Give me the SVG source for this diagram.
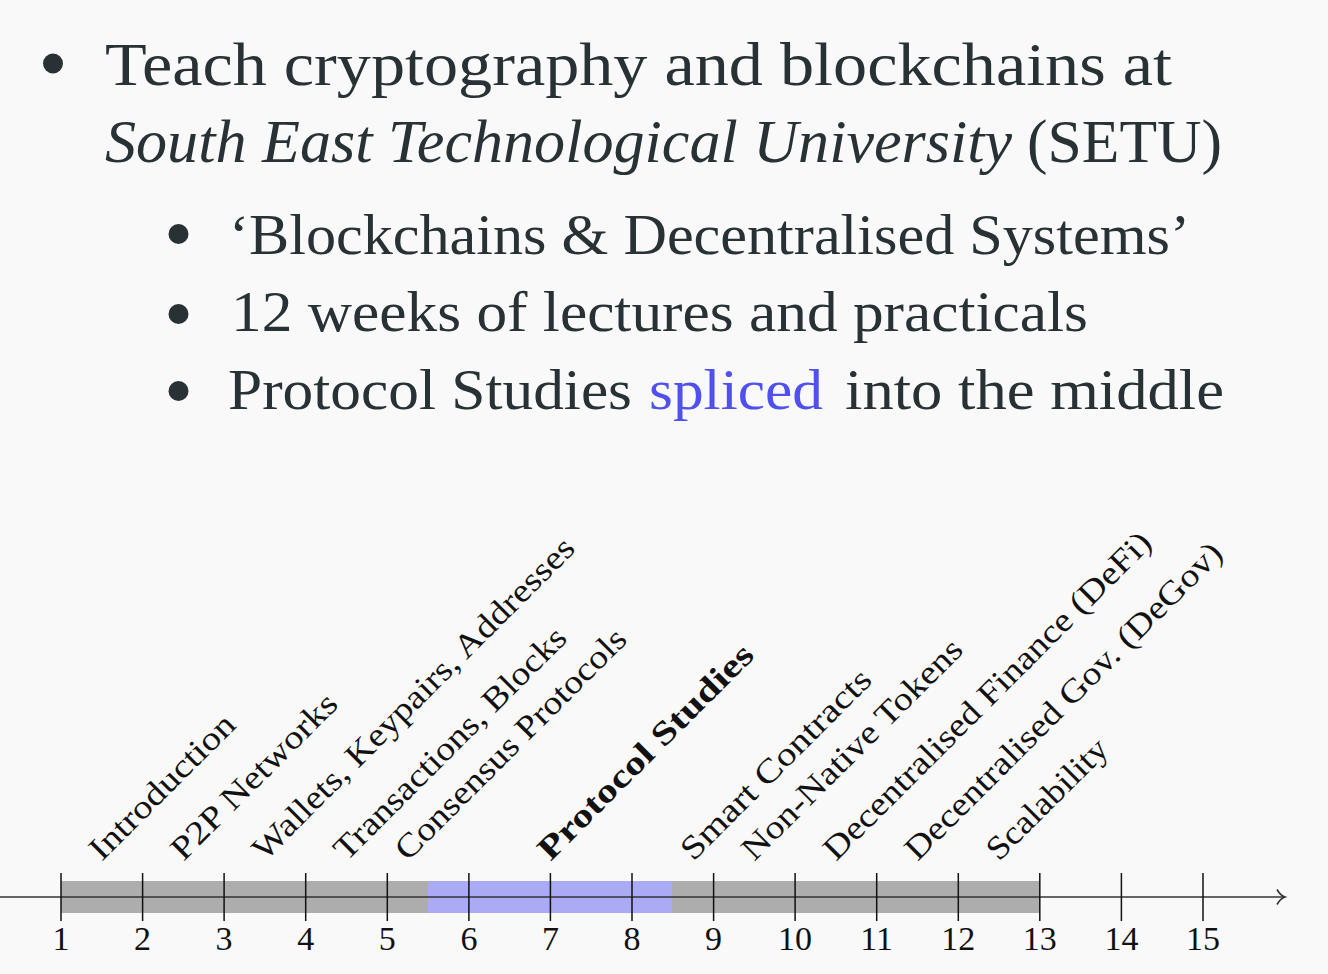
<svg xmlns="http://www.w3.org/2000/svg" width="1328" height="974" viewBox="0 0 1328 974">
<style>
.bt{font-family:"Liberation Serif","Times New Roman",serif;fill:#283133;}
.lb{font-family:"Liberation Serif","Times New Roman",serif;font-size:33px;fill:#111;}
.num{font-family:"Liberation Serif","Times New Roman",serif;font-size:34px;fill:#111;text-anchor:middle;}
.tick{stroke:#111;stroke-width:1.5;}
</style>
<rect width="1328" height="974" fill="#f9f9fa"/>
<g id="bullets">
<circle cx="53" cy="63.5" r="10" fill="#283133"/>
<text class="bt" x="105" y="85" font-size="61" textLength="1067" lengthAdjust="spacingAndGlyphs">Teach cryptography and blockchains at</text>
<text class="bt" x="105" y="162" font-size="61" font-style="italic" textLength="907" lengthAdjust="spacingAndGlyphs">South East Technological University</text>
<text class="bt" x="1027" y="162" font-size="61" textLength="195" lengthAdjust="spacingAndGlyphs">(SETU)</text>
<circle cx="178.5" cy="234" r="10" fill="#283133"/>
<text class="bt" x="229" y="253.5" font-size="58" textLength="961" lengthAdjust="spacingAndGlyphs">‘Blockchains &amp; Decentralised Systems’</text>
<circle cx="178.5" cy="314" r="10" fill="#283133"/>
<text class="bt" x="231" y="331" font-size="58" textLength="857" lengthAdjust="spacingAndGlyphs">12 weeks of lectures and practicals</text>
<circle cx="178.5" cy="391" r="10" fill="#283133"/>
<text class="bt" x="228" y="409" font-size="58" textLength="404" lengthAdjust="spacingAndGlyphs">Protocol Studies</text>
<text class="bt" x="649" y="409" font-size="58" textLength="174" lengthAdjust="spacingAndGlyphs" style="fill:#5050ee">spliced</text>
<text class="bt" x="845" y="409" font-size="58" textLength="379" lengthAdjust="spacingAndGlyphs">into the middle</text>
</g>
<g id="bars">
<rect x="61" y="881" width="367" height="32" fill="#adadad"/>
<rect x="428" y="881" width="244" height="32" fill="#aaaaf5"/>
<rect x="672" y="881" width="368" height="32" fill="#adadad"/>
</g>
<g id="axis">
<line x1="0" y1="897" x2="1284" y2="897" stroke="#333" stroke-width="1.6"/>
<path d="M1277,889.5 C1279,893 1282,896 1285,897 C1282,898 1279,901 1277,904.5" fill="none" stroke="#333" stroke-width="1.6"/>
<line class="tick" x1="61" y1="873" x2="61" y2="921"/>
<line class="tick" x1="142.6" y1="873" x2="142.6" y2="921"/>
<line class="tick" x1="224.1" y1="873" x2="224.1" y2="921"/>
<line class="tick" x1="305.7" y1="873" x2="305.7" y2="921"/>
<line class="tick" x1="387.3" y1="873" x2="387.3" y2="921"/>
<line class="tick" x1="468.9" y1="873" x2="468.9" y2="921"/>
<line class="tick" x1="550.4" y1="873" x2="550.4" y2="921"/>
<line class="tick" x1="632" y1="873" x2="632" y2="921"/>
<line class="tick" x1="713.6" y1="873" x2="713.6" y2="921"/>
<line class="tick" x1="795.1" y1="873" x2="795.1" y2="921"/>
<line class="tick" x1="876.7" y1="873" x2="876.7" y2="921"/>
<line class="tick" x1="958.3" y1="873" x2="958.3" y2="921"/>
<line class="tick" x1="1039.8" y1="873" x2="1039.8" y2="921"/>
<line class="tick" x1="1121.4" y1="873" x2="1121.4" y2="921"/>
<line class="tick" x1="1203" y1="873" x2="1203" y2="921"/>
</g>
<g id="numbers">
<text class="num" x="61" y="950">1</text>
<text class="num" x="142.6" y="950">2</text>
<text class="num" x="224.1" y="950">3</text>
<text class="num" x="305.7" y="950">4</text>
<text class="num" x="387.3" y="950">5</text>
<text class="num" x="468.9" y="950">6</text>
<text class="num" x="550.4" y="950">7</text>
<text class="num" x="632" y="950">8</text>
<text class="num" x="713.6" y="950">9</text>
<text class="num" x="795.1" y="950">10</text>
<text class="num" x="876.7" y="950">11</text>
<text class="num" x="958.3" y="950">12</text>
<text class="num" x="1039.8" y="950">13</text>
<text class="num" x="1121.4" y="950">14</text>
<text class="num" x="1203" y="950">15</text>
</g>
<g id="labels">
<g id="lbl-intro"><text class="lb" x="101.8" y="862" transform="rotate(-45 101.8 862)" textLength="191.7" lengthAdjust="spacingAndGlyphs">Introduction</text></g>
<g id="lbl-p2p"><text class="lb" x="183.4" y="862" transform="rotate(-45 183.4 862)" textLength="221" lengthAdjust="spacingAndGlyphs">P2P Networks</text></g>
<g id="lbl-wallets"><text class="lb" x="264.9" y="862" transform="rotate(-45 264.9 862)" textLength="441" lengthAdjust="spacingAndGlyphs">Wallets, Keypairs, Addresses</text></g>
<g id="lbl-tx"><text class="lb" x="346.5" y="862" transform="rotate(-45 346.5 862)" textLength="314" lengthAdjust="spacingAndGlyphs">Transactions, Blocks</text></g>
<g id="lbl-consensus"><text class="lb" x="407.7" y="862" transform="rotate(-45 407.7 862)" textLength="312.4" lengthAdjust="spacingAndGlyphs">Consensus Protocols</text></g>
<g id="lbl-protocol"><text class="lb" x="550.4" y="862" transform="rotate(-45 550.4 862)" font-weight="bold" textLength="290.4" lengthAdjust="spacingAndGlyphs">Protocol Studies</text></g>
<g id="lbl-smart"><text class="lb" x="693.2" y="862" transform="rotate(-45 693.2 862)" textLength="255.1" lengthAdjust="spacingAndGlyphs">Smart Contracts</text></g>
<g id="lbl-nnt"><text class="lb" x="754.3" y="862" transform="rotate(-45 754.3 862)" textLength="297.7" lengthAdjust="spacingAndGlyphs">Non-Native Tokens</text></g>
<g id="lbl-defi"><text class="lb" x="835.9" y="862" transform="rotate(-45 835.9 862)" textLength="449" lengthAdjust="spacingAndGlyphs">Decentralised Finance (DeFi)</text></g>
<g id="lbl-degov"><text class="lb" x="917.5" y="862" transform="rotate(-45 917.5 862)" textLength="434" lengthAdjust="spacingAndGlyphs">Decentralised Gov. (DeGov)</text></g>
<g id="lbl-scal"><text class="lb" x="999.1" y="862" transform="rotate(-45 999.1 862)" textLength="157" lengthAdjust="spacingAndGlyphs">Scalability</text></g>
</g>
</svg>
